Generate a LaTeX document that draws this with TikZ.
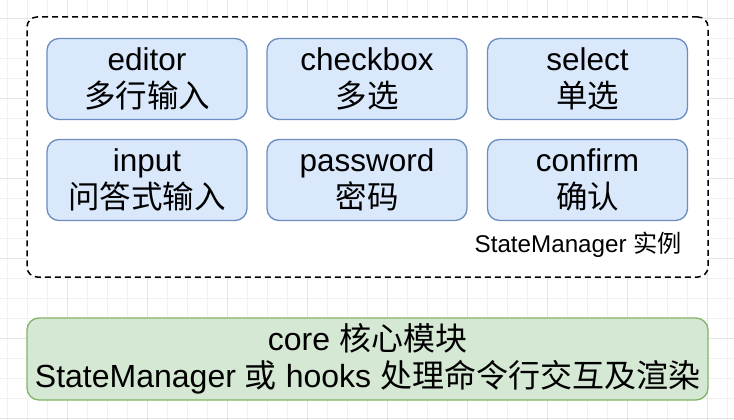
\documentclass[tikz,border=0pt]{standalone}
\usepackage{fontspec}
\setmainfont{Liberation Sans}
\newfontfamily\cjk{Noto Sans CJK SC}
\definecolor{bluefill}{HTML}{DAE8FC}
\definecolor{bluedraw}{HTML}{6C8EBF}
\definecolor{greenfill}{HTML}{D5E8D4}
\definecolor{greendraw}{HTML}{82B366}
\definecolor{gridminor}{HTML}{F1F1F1}
\definecolor{gridmajor}{HTML}{E4E4E4}
\tikzset{
  modbox/.style={draw=bluedraw, fill=bluefill, line width=1.3pt, rounded corners=12pt,
    minimum width=200pt, minimum height=81pt, inner sep=0pt, align=center,
    font=\fontsize{31.5}{37}\selectfont},
  corebox/.style={draw=greendraw, fill=greenfill, line width=1.3pt, rounded corners=12pt,
    minimum width=681pt, minimum height=82pt, inner sep=0pt, align=center,
    font=\fontsize{32}{37}\selectfont},
  groupbox/.style={draw=black, fill=white, line width=1.5pt, dash pattern=on 6pt off 4pt,
    rounded corners=10pt, minimum width=681pt, minimum height=260pt, inner sep=0pt},
  lbl/.style={font=\fontsize{24.2}{28}\selectfont, inner sep=0pt, anchor=east}
}
\begin{document}
\begin{tikzpicture}[x=1pt, y=-1pt]
\useasboundingbox (0,0) rectangle (734,420);
\fill[white] (0,0) rectangle (734,420);
% grid
\foreach \gx in {7,27,...,727} \draw[gridminor, line width=0.8pt] (\gx,0) -- (\gx,420);
\foreach \gy in {18,38,...,418} \draw[gridminor, line width=0.8pt] (0,\gy) -- (734,\gy);
\foreach \gx in {67,147,...,727} \draw[gridmajor, line width=0.8pt] (\gx,0) -- (\gx,420);
\foreach \gy in {18,98,...,418} \draw[gridmajor, line width=0.8pt] (0,\gy) -- (734,\gy);

\node[groupbox] (group) at (367.5,147) {};
\node[modbox] (editor) at (147,79) {editor\\{\cjk 多行输入}};
\node[modbox] (checkbox) at (367,79) {checkbox\\{\cjk 多选}};
\node[modbox] (select) at (587.5,79) {select\\{\cjk 单选}};
\node[modbox] (input) at (147,180) {input\\{\cjk 问答式输入}};
\node[modbox] (password) at (367,180) {password\\{\cjk 密码}};
\node[modbox] (confirm) at (587.5,180) {confirm\\{\cjk 确认}};
\node[lbl] (smlabel) at (682,245) {StateManager {\cjk 实例}};
\node[corebox] (core) at (367.5,359) {core {\cjk 核心模块}\\StateManager {\cjk 或} hooks {\cjk 处理命令行交互及渲染}};
\end{tikzpicture}
\end{document}
